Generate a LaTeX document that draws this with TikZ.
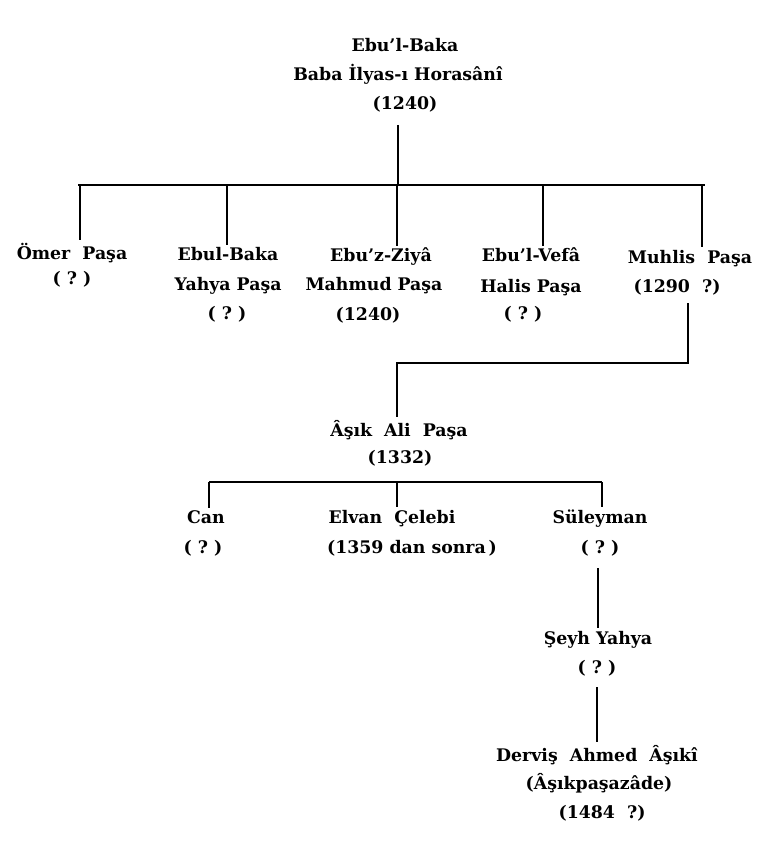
\documentclass[tikz,border=0pt]{standalone}
\usepackage{fontspec}
\setmainfont{DejaVu Serif}
\begin{document}
\begin{tikzpicture}[x=0.75pt,y=-0.75pt,line width=1.7pt,
    kin/.style={anchor=base,inner sep=1pt,font=\bfseries\fontsize{13}{15}\selectfont}]
    \useasboundingbox (0,0) rectangle (772,855);
    %% root
    \foreach \n/\x/\y/\t in {root1/405/52/Ebu'l-Baka,
                             root2/398/81/Baba İlyas-ı Horasânî,
                             root3/405/110/(1240)}
        \node[kin] (\n) at (\x,\y) {\t};
    %% sons
    \foreach \n/\x/\y/\t in {omer1/72/259/Ömer~~Paşa, omer2/72/285/(~?~),
                             yahya1/228/261/Ebul-Baka, yahya2/228/290/Yahya Paşa, yahya3/227/319/(~?~),
                             mahmud1/381/262/Ebu'z-Ziyâ, mahmud2/374/290/Mahmud Paşa, mahmud3/368/320/(1240),
                             halis1/531/262/Ebu'l-Vefâ, halis2/531/292/Halis Paşa, halis3/523/319/(~?~),
                             muhlis1/690/263/Muhlis~~Paşa, muhlis2/677/292/(1290~~?)}
        \node[kin] (\n) at (\x,\y) {\t};
    %% grandsons and on
    \foreach \n/\x/\y/\t in {ali1/399/436/Âşık~~Ali~~Paşa, ali2/400/463/(1332),
                             can1/206/523/Can, can2/203/553/(~?~),
                             elvan1/392/523/Elvan~~Çelebi, elvan2/412/553/(1359 dan sonra\thinspace),
                             sul1/600/523/Süleyman, sul2/600/553/(~?~),
                             seyh1/598/644/Şeyh Yahya, seyh2/597/673/(~?~),
                             dervis1/597/761/Derviş~~Ahmed~~Âşıkî, dervis2/599/789/(Âşıkpaşazâde),
                             dervis3/602/818/(1484~~?)}
        \node[kin] (\n) at (\x,\y) {\t};
    %% first bar
    \coordinate (stem1) at (398,125);
    \coordinate (bar1w) at (78,185);
    \coordinate (bar1e) at (705,185);
    \draw (stem1) -- (stem1 |- bar1w);
    \draw (bar1w) -- (bar1e);
    \foreach \n/\x in {omer1/80,yahya1/227,mahmud1/397,halis1/543,muhlis1/702}
        \draw (bar1w -| \x,0) -- (\n.north -| \x,0);
    %% Muhlis Pasa to Asik Ali Pasa
    \coordinate (stem2) at (688,303);
    \coordinate (bar2) at (688,363);
    \draw (stem2) -- (bar2) -| (ali1.north -| 397,0);
    %% second bar
    \coordinate (bar3w) at (209,482);
    \coordinate (bar3e) at (602,482);
    \draw (bar3w) -- (bar3e);
    \foreach \n/\x in {can1/209,elvan1/397,sul1/602}
        \draw (bar3w -| \x,0) -- (\n.north -| \x,0);
    %% down to Asikpasazade
    \coordinate (stem4) at (598,568);
    \coordinate (stem5) at (597,687);
    \draw (stem4) -- (seyh1.north -| stem4);
    \draw (stem5) -- (dervis1.north -| stem5);
\end{tikzpicture}
\end{document}
